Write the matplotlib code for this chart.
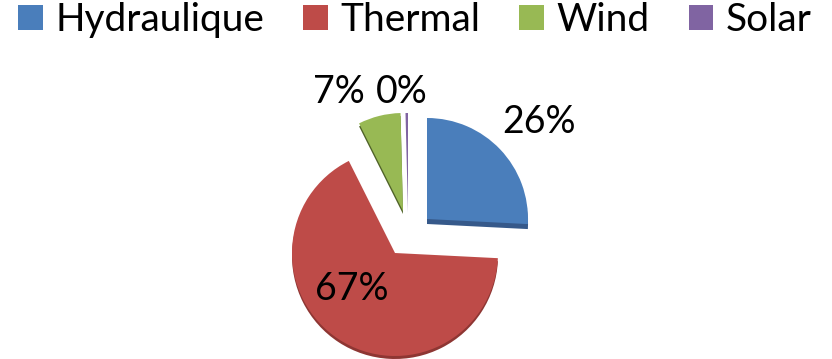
import matplotlib
matplotlib.use("Agg")
import matplotlib.pyplot as plt

# ---- data ----
categories = ["Hydraulique", "Thermal", "Wind", "Solar"]
shares = [25.8, 66.8, 7.0, 0.4]

# ---- style ----
colors = ["#4A7EBB", "#BE4B48", "#98B954", "#8064A2"]
side_colors = ["#36598A", "#8E3633", "#4F6228", "#5E4A7A"]
FONT = ["Lato", "DejaVu Sans"]
H = 359

# per-slice apex (pixel coords), radius, shadow depth
apex = [(427, 219), (395, 253), (403, 211), (408, 213)]
radii = [101, 103, 98, 100]
depth = [5, 3, 3, 0]
label_pos = [(539, 133), (352, 300), (339, 103), (402, 103)]

fig = plt.figure(figsize=(8.32, 3.59), dpi=100)
ax = fig.add_axes([0, 0, 1, 1])

# shadow (side) pie
sh, _ = ax.pie(shares, colors=side_colors, startangle=90, counterclock=False,
               radius=100, center=(400, 150))
for w, (x, y), r, d in zip(sh, apex, radii, depth):
    w.set_center((x, H - y - d))
    w.set_radius(r)
    w.set_zorder(1)
    w.set_linewidth(0)
    if d == 0:
        w.set_visible(False)

wedges, texts, autotexts = ax.pie(
    shares, colors=colors, startangle=90, counterclock=False,
    radius=100, center=(400, 150),
    autopct=lambda p: f"{p:.0f}%",
    textprops=dict(fontsize=27, family=FONT, color="black"))
for w, (x, y), r in zip(wedges, apex, radii):
    w.set_center((x, H - y))
    w.set_radius(r)
    w.set_zorder(2)
    w.set_linewidth(0)

for t, (x, y) in zip(autotexts, label_pos):
    t.set_position((x, H - y))
    t.set_ha("center")
    t.set_va("baseline")
    t.set_zorder(5)

ax.set_xlim(0, 832)
ax.set_ylim(0, H)
ax.set_aspect("equal")
ax.axis("off")

leg = ax.legend(wedges, categories, loc="upper left",
                bbox_to_anchor=(18 / 832, 1 - 2 / H),
                bbox_transform=fig.transFigure,
                ncol=4, frameon=False,
                prop=dict(family=FONT, size=28),
                handlelength=0.63, handleheight=0.63,
                handletextpad=0.33, columnspacing=1.0,
                borderpad=0, borderaxespad=0)

fig.savefig("out.png", dpi=100)
